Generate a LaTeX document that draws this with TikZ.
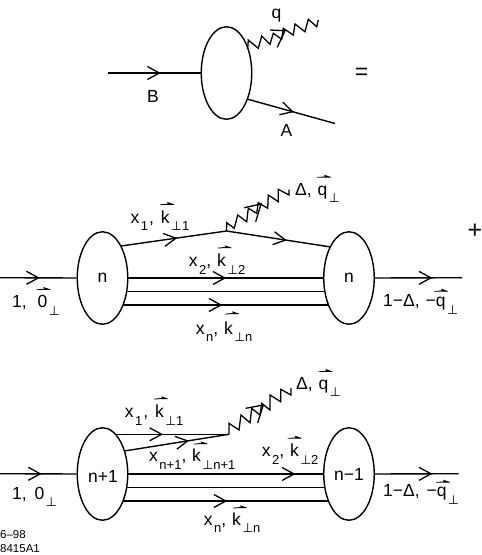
\documentclass[tikz,border=0pt]{standalone}
\usepackage{fontspec}
\setmainfont{Liberation Sans}
\newfontfamily\perpfont{DejaVu Sans}
\usetikzlibrary{shapes.geometric,decorations.markings,arrows.meta}
\newcommand\mainf{\fontsize{17.5}{20}\selectfont}
\newcommand\subf{\fontsize{13}{15}\selectfont}
\newcommand\dn[1]{\kern1.5pt\raisebox{-7.5pt}{\subf #1}}
\newcommand\pp{{\perpfont\fontsize{12.5}{15}\selectfont ⊥}}
\tikzset{
  wire/.style={line width=1.4pt},
  zig/.style={line width=1.3pt,line join=miter},
  blob/.style={draw,ellipse,line width=1.4pt,minimum width=50.5pt,minimum height=92.5pt,inner sep=0pt,font=\mainf},
  lab/.style={anchor=base west,inner sep=0pt,font=\mainf},
  small/.style={anchor=base west,inner sep=0pt,font=\fontsize{11.5}{13}\selectfont},
  tip/.style={postaction={decorate,decoration={markings,mark=at position #1 with {\arrow{Straight Barb[length=12pt,width=13pt,line width=1.3pt]}}}}}
}
\newcommand\vbar[2]{\fill (#1-7,#2+0.4) -- (#1+1,#2-0.3) -- (#1,#2-2) -- (#1+7,#2+0.3) -- (#1+7,#2+0.8) -- (#1-7,#2+1) -- cycle;}
\begin{document}
\begin{tikzpicture}[x=1pt,y=-1pt]
\useasboundingbox (0,0) rectangle (482,555);
% top
\node[blob] (t) at (226.5,73) {};
\coordinate (bi) at (108,73);
\coordinate (ai) at (247,99);
\coordinate (ao) at (335,123.5);
\coordinate (qs) at (247.7,48.3);
\draw[wire,tip=.57] (bi) -- (t.west);
\draw[wire,tip=.534] (ai) -- (ao);
\draw[zig] (qs) -- (248.3,40) -- (258.3,48.3) -- (261.7,36) -- (270,44.3) -- (273.3,33.3) -- (281.7,39.3) -- (283.3,28.3) -- (293.3,35) -- (295,24) -- (305,31.7) -- (308.3,19.3) -- (316.7,26.7) -- (318.3,20);
\draw[zig] (270,30) -- (285,30.7) -- (277.3,47.3);
\node[lab] (lq) at (271.5,18) {q};
\node[lab] (lb) at (147,102) {B};
\node[lab] (la) at (280.5,136) {A};
\node[inner sep=0pt,font=\fontsize{23}{25}\selectfont] (eq) at (361.5,73.5) {=};
\node[inner sep=0pt,font=\fontsize{25}{27}\selectfont] (pl) at (475,231) {+};
% middle
\node[blob] (m1) at (102.5,278) {n};
\node[blob] (m2) at (349,278) {n};
\coordinate (min) at (0,277.7);
\coordinate (mout) at (462,277.7);
\coordinate (mu1) at (121,246);
\coordinate (mv) at (226.5,231);
\coordinate (mu2) at (331,247);
\coordinate (a1) at (127,291.3); \coordinate (b1) at (325,291.3);
\coordinate (a2) at (123,305); \coordinate (b2) at (329,305);
\draw[wire,tip=.52] (min) -- (m1.west);
\draw[wire,tip=.659] (m2.east) -- (mout);
\draw[wire,tip=.533] (mu1) -- (mv);
\draw[wire,tip=.577] (mv) -- (mu2);
\draw[wire,tip=.5025] (m1.east) -- (m2.west);
\draw[wire] (a1) -- (b1);
\draw[wire,tip=.482] (a2) -- (b2);
\draw[zig] (mv) -- (226.7,222.7) -- (234.3,228.3) -- (237.7,215) -- (246.7,221.7) -- (248.3,208.3) -- (256.7,213.3) -- (258.3,202.7) -- (267.7,208.3) -- (268.3,195) -- (278.3,201.7) -- (278.3,189.3) -- (289,195) -- (289,189.5);
\draw[zig] (244.3,207.7) -- (261,204) -- (255.7,221.7);
\node[lab] (l1) at (130.5,223.3) {x\dn{1}\kern1pt, \kern2pt k\dn{\pp{}1}};
\vbar{167}{204}
\node[lab] (l2) at (188.7,266.7) {x\dn{2}, \kern1pt k\dn{\pp{}2}};
\vbar{224.5}{247.3}
\node[lab] (l3) at (195.7,334) {x\dn{n}, \kern1pt k\dn{\pp{}n}};
\vbar{232}{313.3}
\node[lab] (l4) at (12,307.7) {1, \kern6pt 0\dn{\pp}};
\vbar{43.3}{289}
\node[lab] (l5) at (295,195) {Δ, \kern1pt q\dn{\pp}};
\vbar{324}{176.7}
\node[lab] (l6) at (383,306.7) {1−Δ, \kern1pt −q\dn{\pp}};
\vbar{441}{290.7}
% bottom
\node[blob] (n1) at (102.5,474) {};
\node[lab,anchor=base] (n1t) at (103,482) {n+1};
\node[blob] (n2) at (349,474) {};
\node[lab,anchor=base] (n2t) at (349,480) {n−1};
\coordinate (nin) at (0,473.7);
\coordinate (nout) at (458.7,473.7);
\coordinate (nu1) at (115,434.3);
\coordinate (nu2) at (124.3,451);
\coordinate (nv) at (229,434.3);
\coordinate (c1) at (127,487.5); \coordinate (d1) at (325,487.5);
\coordinate (c2) at (123,501); \coordinate (d2) at (329,501);
\draw[wire,tip=.545] (nin) -- (n1.west);
\draw[wire,tip=.685] (n2.east) -- (nout);
\draw[wire,tip=.421] (nu1) -- (nv);
\draw[wire,tip=.618] (nu2) -- (nv);
\draw[wire,tip=.858] (n1.east) -- (n2.west);
\draw[wire] (c1) -- (d1);
\draw[wire,tip=.506] (c2) -- (d2);
\draw[zig] (nv) -- (229,423.3) -- (239,430) -- (241,415) -- (250,422.7) -- (251.7,408.3) -- (260,415) -- (261.7,403.3) -- (270,410) -- (270,395) -- (280.7,401.7) -- (280.7,389.3) -- (291,395) -- (291,388);
\draw[zig] (245.7,408.3) -- (263.3,405) -- (257.7,422.7);
\node[lab] (k1) at (124.7,417.7) {x\dn{1}\kern1pt, \kern2pt k\dn{\pp{}1}};
\vbar{161}{398.3}
\node[lab] (k2) at (149,461.7) {x\dn{n+1}, \kern1pt k\dn{\pp{}n+1}};
\vbar{200.5}{443.3}
\node[lab] (k3) at (203.7,525) {x\dn{n}, \kern1pt k\dn{\pp{}n}};
\vbar{240}{507.3}
\node[lab] (k4) at (12,499.3) {1, \kern3pt 0\dn{\pp}};
\node[lab] (k5) at (296,389) {Δ, \kern1pt q\dn{\pp}};
\vbar{325.3}{371}
\node[lab] (k6) at (383,496.7) {1−Δ, \kern2pt −q\dn{\pp}};
\vbar{443}{481.7}
\node[lab] (k7) at (261.7,456.7) {x\dn{2}, \kern1pt k\dn{\pp{}2}};
\vbar{294.7}{437.7}
\node[small] (d) at (0,538) {6–98};
\node[small] (e) at (0,552) {8415A1};
\end{tikzpicture}
\end{document}
